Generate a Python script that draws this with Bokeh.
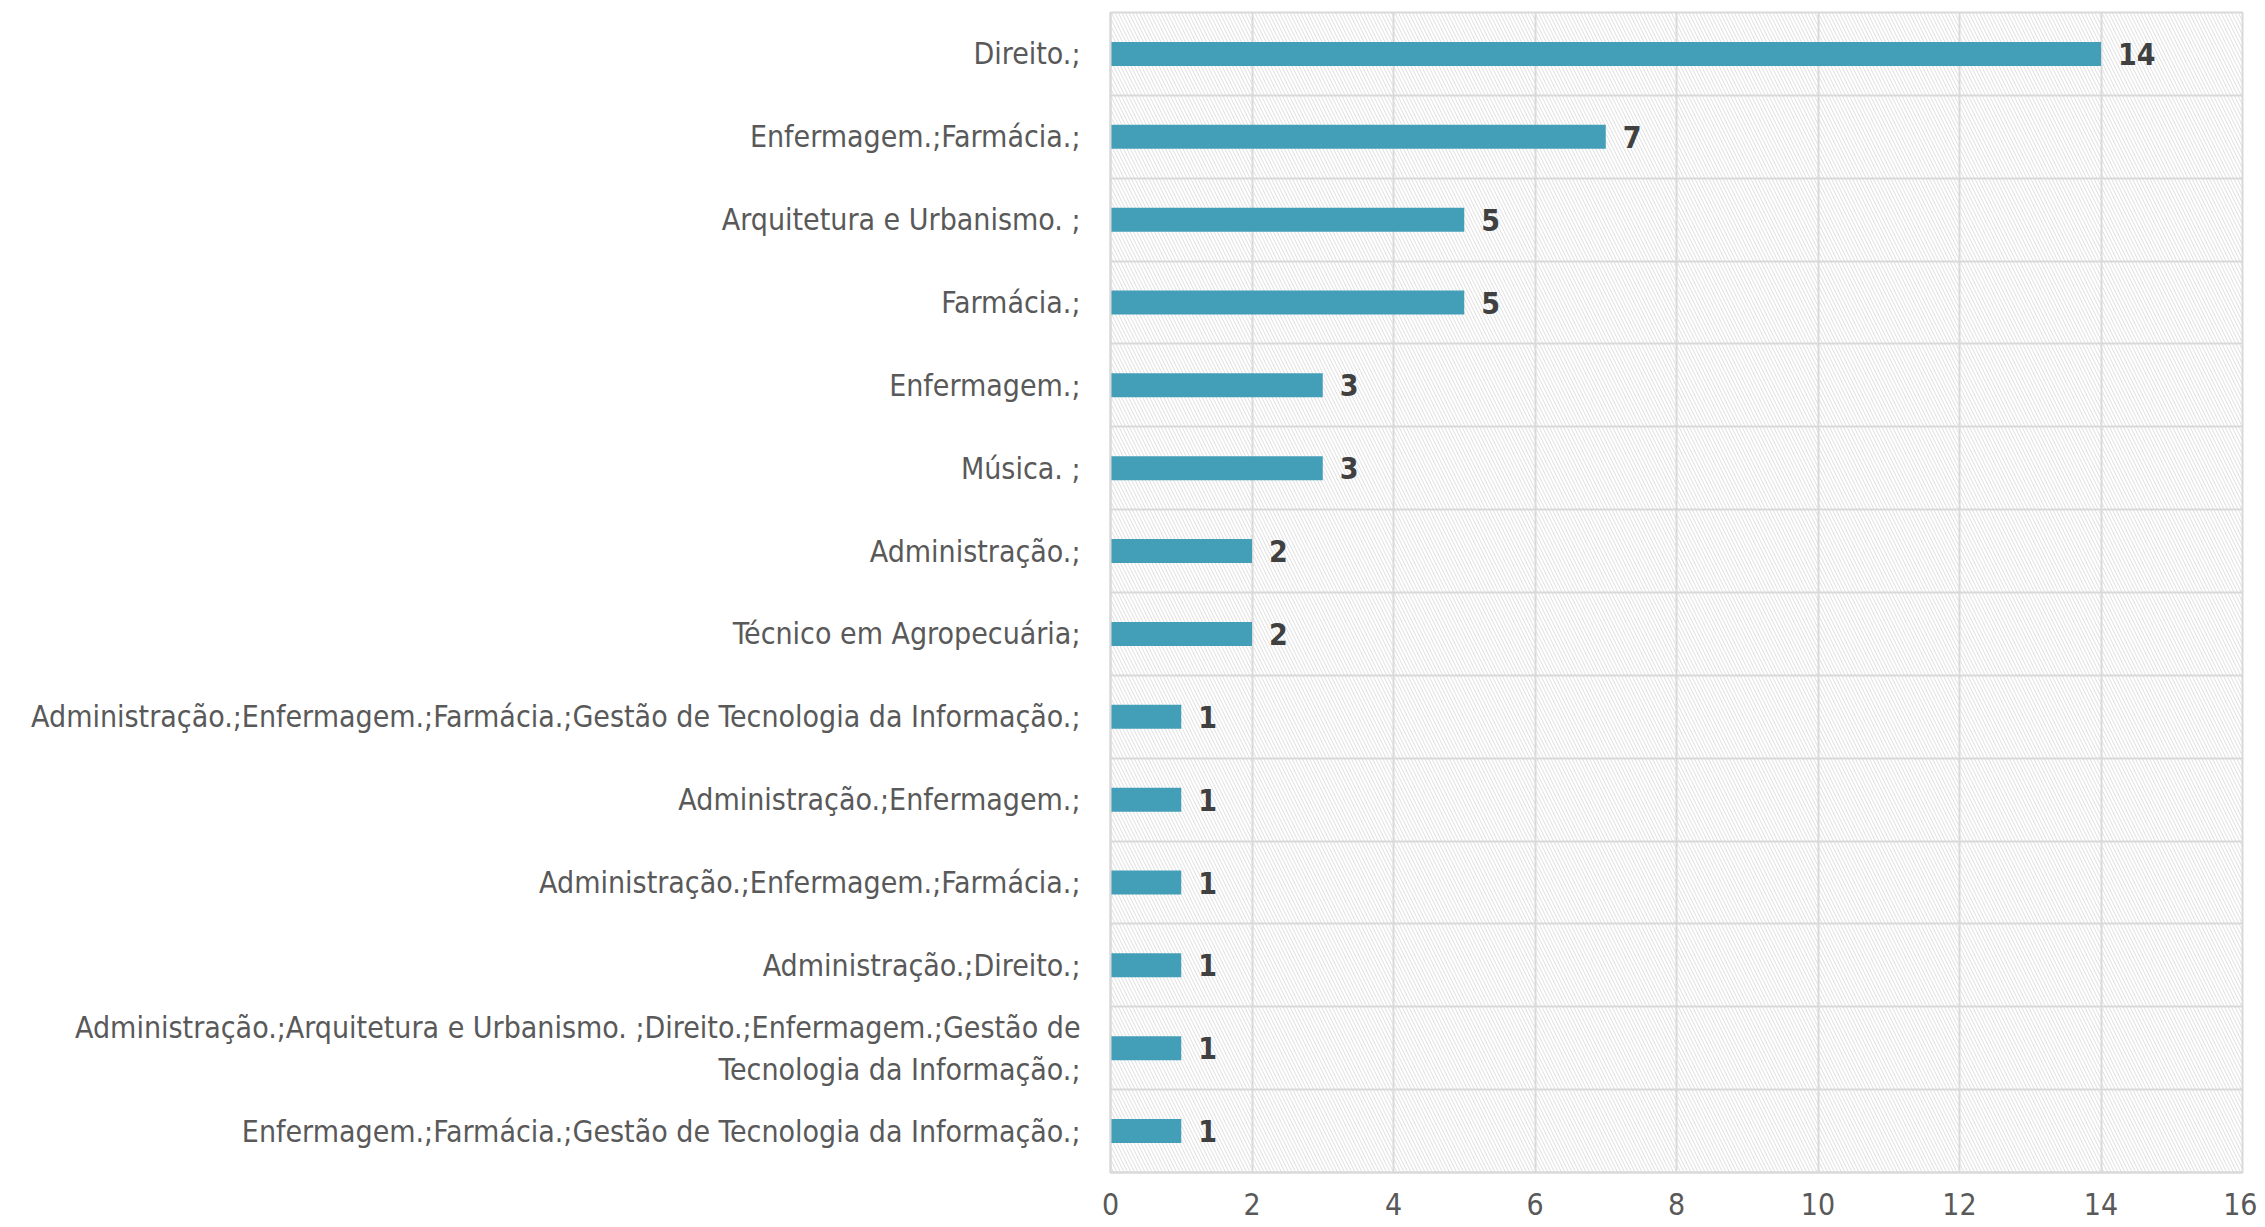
from bokeh.plotting import figure
from bokeh.models import Range1d, FactorRange, BoxAnnotation, SingleIntervalTicker, ColumnDataSource
from bokeh.transform import dodge
from bokeh.core.properties import value
from bokeh.embed import file_html
from bokeh.resources import INLINE

categories = [
    "Direito.;",
    "Enfermagem.;Farmácia.;",
    "Arquitetura e Urbanismo. ;",
    "Farmácia.;",
    "Enfermagem.;",
    "Música. ;",
    "Administração.;",
    "Técnico em Agropecuária;",
    "Administração.;Enfermagem.;Farmácia.;Gestão de Tecnologia da Informação.;",
    "Administração.;Enfermagem.;",
    "Administração.;Enfermagem.;Farmácia.;",
    "Administração.;Direito.;",
    "Administração.;Arquitetura e Urbanismo. ;Direito.;Enfermagem.;Gestão de\nTecnologia da Informação.;",
    "Enfermagem.;Farmácia.;Gestão de Tecnologia da Informação.;",
]
counts = [14, 7, 5, 5, 3, 3, 2, 2, 1, 1, 1, 1, 1, 1]
x_max = 16

FONT = "DejaVu Sans Condensed"
BAR = "#439EB8"
GRID = "#d9d9d9"

src = ColumnDataSource(dict(cat=categories, n=counts, lbl=[str(c) for c in counts]))

p = figure(
    width=2257, height=1223,
    y_range=FactorRange(factors=list(reversed(categories)), range_padding=0),
    x_range=Range1d(0, x_max),
    output_backend="svg", toolbar_location=None,
    min_border_left=1110, min_border_right=15, min_border_top=12, min_border_bottom=51,
)
p.frame_width = 1132
p.frame_height = 1160
p.background_fill_color = "white"
p.border_fill_color = "white"
p.outline_line_color = GRID
p.outline_line_width = 2

# hatch background
p.add_layout(BoxAnnotation(level="underlay", fill_alpha=0, line_alpha=0,
                           hatch_pattern="\\", hatch_color="#dedede",
                           hatch_scale=7, hatch_weight=1, hatch_alpha=1))

p.ygrid.grid_line_color = None
p.xgrid.grid_line_color = GRID
p.xgrid.grid_line_width = 2
p.xaxis.ticker = SingleIntervalTicker(interval=2)

bnd = ColumnDataSource(dict(cat=categories[:-1]))
p.hspan(y=dodge("cat", -0.5, range=p.y_range), source=bnd, line_color=GRID, line_width=2)

p.hbar(y="cat", right="n", left=0, height=0.29, source=src, fill_color=BAR, line_color=None)

p.text(x="n", y="cat", text="lbl", source=src, x_offset=17, text_baseline="middle",
       text_font=value(FONT), text_font_size="30px", text_font_style="bold", text_color="#404040")

for ax in (p.xaxis[0], p.yaxis[0]):
    ax.axis_line_color = GRID
    ax.axis_line_width = 2
    ax.major_tick_line_color = None
    ax.minor_tick_line_color = None
    ax.major_label_text_font = FONT
    ax.major_label_text_color = "#595959"

p.xaxis.major_label_text_font_size = "30px"
p.xaxis.major_label_standoff = 14
p.yaxis.major_label_text_font_size = "30px"
p.yaxis.major_label_standoff = 24

open("out.html", "w").write(file_html(p, INLINE))
